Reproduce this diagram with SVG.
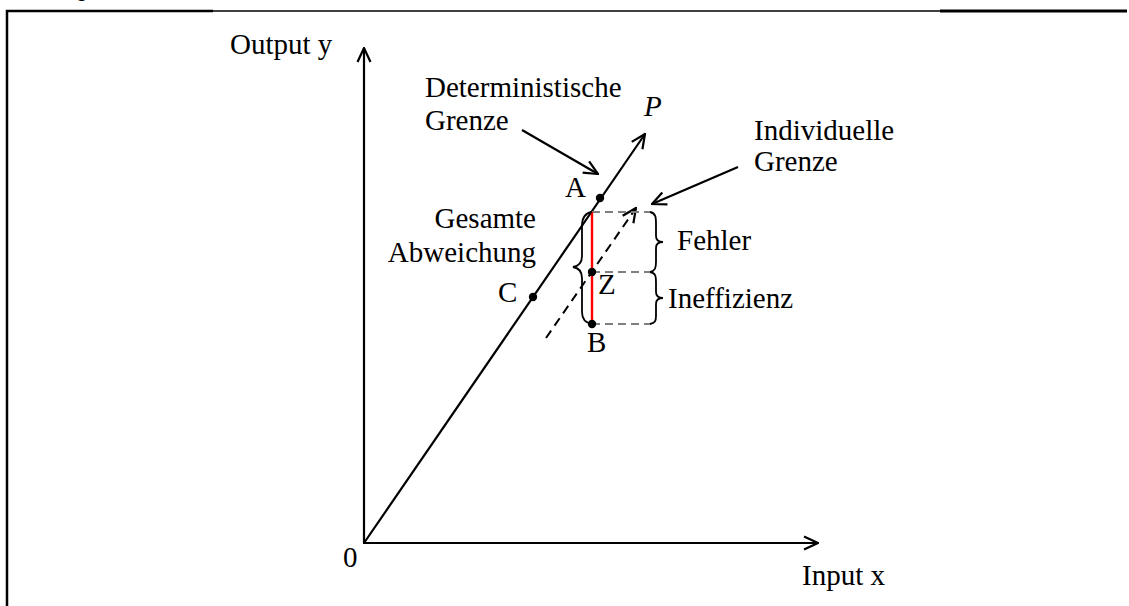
<svg xmlns="http://www.w3.org/2000/svg" width="1129" height="606" viewBox="0 0 1129 606">
<defs>
<style>
.t{font-family:"Liberation Serif","Times New Roman",serif;font-size:29px;fill:#000}
.ax{stroke:#000;stroke-width:2.2;fill:none}
.dash{stroke:#7f7f7f;stroke-width:2;stroke-dasharray:8,5;fill:none}
.br{stroke:#000;stroke-width:1.8;fill:none}
.pt{fill:#000}
</style>
<marker id="ar" viewBox="0 0 16 16" refX="15" refY="8" markerWidth="16" markerHeight="16" markerUnits="userSpaceOnUse" orient="auto">
<path d="M1,1.5 L15,8 L1,14.5" fill="none" stroke="#000" stroke-width="2.2"/>
</marker>
</defs>
<rect width="1129" height="606" fill="#fff"/>
<g id="frame">
<text x="88" y="-3" style="font-family:'Liberation Sans',Arial,sans-serif;font-size:20px;font-weight:bold" text-anchor="end">ng</text>
<path d="M7,606 L7,11 L213,11" stroke="#000" stroke-width="2.5" fill="none"/>
<path d="M213,11 L940,11" stroke="#000" stroke-width="1.6" fill="none"/>
<path d="M940,11 L1127,11" stroke="#000" stroke-width="3" fill="none"/>
</g>
<g id="connectors">
<line class="ax" x1="364" y1="543" x2="364" y2="48" marker-end="url(#ar)"/>
<line class="ax" x1="363" y1="543" x2="818" y2="543" marker-end="url(#ar)"/>
<line class="ax" x1="364" y1="543" x2="645" y2="134" marker-end="url(#ar)"/>
<line class="ax" x1="522" y1="130" x2="598" y2="174" stroke-width="1.8" marker-end="url(#ar)"/>
<line class="ax" x1="738" y1="167" x2="652" y2="204" stroke-width="1.8" marker-end="url(#ar)"/>
<line x1="546" y1="338" x2="636" y2="208" stroke="#000" stroke-width="2" stroke-dasharray="9,6" fill="none" marker-end="url(#ar)"/>
<line class="dash" x1="592" y1="212" x2="650" y2="212"/>
<line class="dash" x1="592" y1="272" x2="650" y2="272"/>
<line class="dash" x1="592" y1="324" x2="650" y2="324"/>
<line x1="592" y1="212" x2="592" y2="324" stroke="#ff0000" stroke-width="2.4"/>
<path class="br" d="M650,212 C656,213 656,218 656,224 L656,236 C656,240 658,242 663,242 C658,242 656,244 656,248 L656,262 C656,268 655,271 650,272"/>
<path class="br" d="M650,272 C656,273 656,277 656,282 L656,292 C656,296 658,298 663,298 C658,298 656,300 656,304 L656,316 C656,321 655,323 650,324"/>
<path class="br" d="M592,212 C585,213 582,218 582,226 L582,256 C582,262 579,266 573,267 C579,268 582,272 582,278 L582,312 C582,319 586,323 592,324"/>
</g>
<g id="points">
<circle class="pt" cx="600" cy="198" r="4.2"/>
<circle class="pt" cx="533" cy="297" r="4.2"/>
<circle class="pt" cx="592" cy="272" r="4.2"/>
<circle class="pt" cx="592" cy="324" r="4.2"/>
</g>
<g id="labels">
<text class="t" x="230" y="54">Output y</text>
<text class="t" x="343" y="567">0</text>
<text class="t" x="802" y="585">Input x</text>
<text class="t" x="425" y="97">Deterministische</text>
<text class="t" x="425" y="130">Grenze</text>
<text class="t" x="644" y="116" font-style="italic">P</text>
<text class="t" x="754" y="140">Individuelle</text>
<text class="t" x="754" y="171">Grenze</text>
<text class="t" x="565" y="197">A</text>
<text class="t" x="536" y="228" text-anchor="end">Gesamte</text>
<text class="t" x="536" y="262" text-anchor="end">Abweichung</text>
<text class="t" x="498" y="302">C</text>
<text class="t" x="598" y="294">Z</text>
<text class="t" x="587" y="352">B</text>
<text class="t" x="677" y="250">Fehler</text>
<text class="t" x="668" y="308">Ineffizienz</text>
</g>
</svg>
